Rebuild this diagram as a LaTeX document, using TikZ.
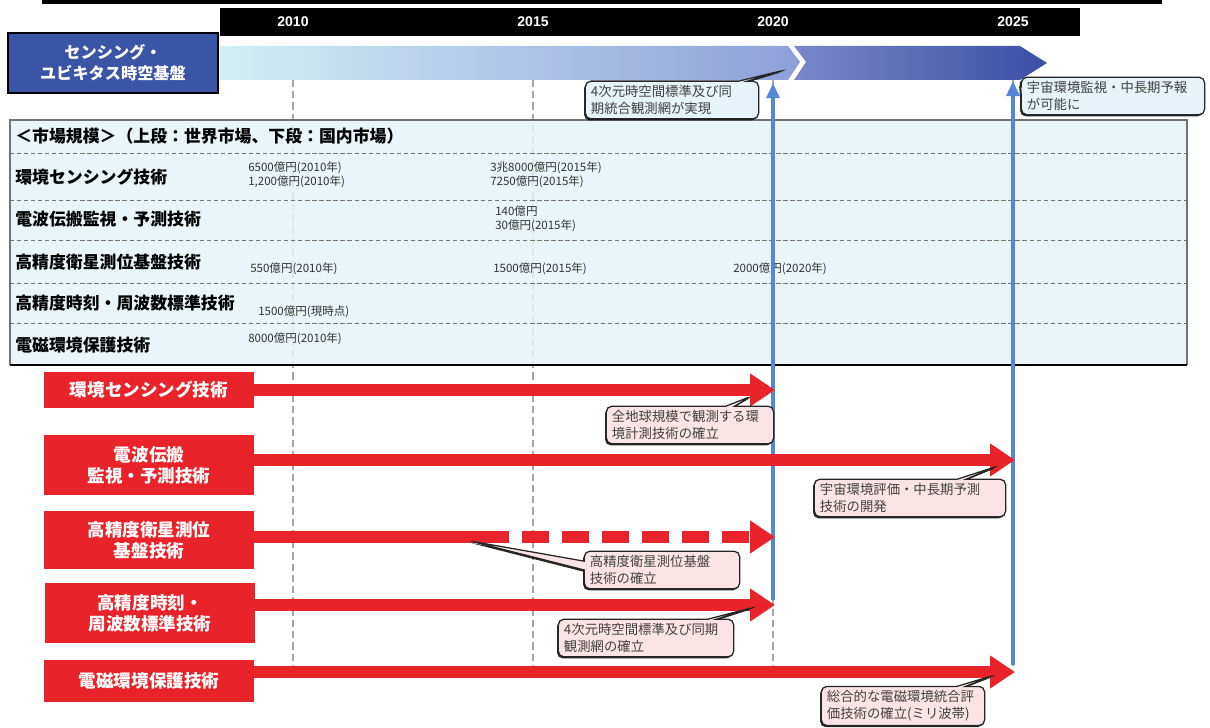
\documentclass[tikz,border=0pt]{standalone}
\usepackage{fontspec}
\setmainfont{Liberation Sans}
\newfontfamily\jp{Noto Sans CJK JP}
\usetikzlibrary{arrows.meta,shapes.callouts,shadows}

\definecolor{barred}{RGB}{232,35,42}
\definecolor{baseblue}{RGB}{58,84,166}
\definecolor{tablebg}{RGB}{230,243,248}
\definecolor{notepink}{RGB}{252,228,230}
\definecolor{notecyan}{RGB}{230,243,248}
\definecolor{axisblue}{RGB}{84,136,214}

\tikzset{
  yearbar/.style={fill=black, minimum width=21.5cm, minimum height=0.7cm, inner sep=0pt},
  yeartext/.style={text=white, font=\bfseries\fontsize{10}{12}\selectfont},
  techbase/.style={draw=black, line width=1.3pt, fill=baseblue, text=white, align=center,
    font=\jp\bfseries\fontsize{11.5}{15}\selectfont, minimum width=5.25cm, minimum height=1.5cm},
  techbox/.style={fill=barred, text=white, align=center, inner sep=0pt,
    font=\jp\bfseries\fontsize{12.5}{15}\selectfont, minimum width=5.25cm},
  rowlabel/.style={anchor=west, font=\jp\bfseries\fontsize{12}{14}\selectfont, inner sep=0pt},
  market/.style={anchor=west, align=left, font=\jp\fontsize{8.2}{10}\selectfont, text=black!80, inner sep=0pt},
  gridline/.style={draw=black!35, line width=1.4pt, dash pattern=on 5pt off 3pt},
  rowline/.style={draw=black!55, line width=0.5pt, densely dashed},
  bluearrow/.style={draw=axisblue, line width=2.8pt, -{Triangle[length=0.38cm,width=0.32cm]}},
  redarrow/.style={draw=barred, line width=8.5pt, -{Triangle[length=0.62cm,width=0.78cm]}},
  note/.style={rectangle callout, draw=black!85, line width=0.9pt, rounded corners=4pt,
    fill=notepink, text=black!75, align=left, inner xsep=4pt, inner ysep=3pt,
    font=\jp\fontsize{9.5}{12}\selectfont, callout pointer width=0.22cm,
    drop shadow={shadow xshift=-0.9pt, shadow yshift=-1.1pt, fill=black, opacity=0.85}},
}

\begin{document}
\begin{tikzpicture}[x=0.025cm,y=-0.025cm]
\useasboundingbox (0,0) rectangle (1210,728);

% years
\draw[line width=2.2pt] (42,2) -- (1162,2);
\node[yearbar] (yearbar) at (650,22) {};
\foreach \yr/\xx in {2010/293,2015/533,2020/773,2025/1013}
  \node[yeartext] (y\yr) at (\xx,22) {\yr};

% base arrow
\shade[left color={rgb,255:red,210;green,238;blue,246}, middle color={rgb,255:red,184;green,222;blue,242},
  right color={rgb,255:red,140;green,160;blue,216}]
  (220,46) -- (788,46) -- (800,62) -- (788,80) -- (220,80) -- cycle;
\shade[left color={rgb,255:red,120;green,136;blue,202}, right color={rgb,255:red,60;green,78;blue,165}]
  (794,46) -- (1020,46) -- (1047,63) -- (1020,80) -- (794,80) -- (806,62) -- cycle;
\node[techbase] (base) at (113,63) {センシング・\\ユビキタス時空基盤};

% grid
\foreach \yr in {2010,2015,2020,2025}
  \draw[gridline] (y\yr |- 0,80) -- (y\yr |- 0,665);

% market table
\fill[tablebg, fill opacity=0.85] (10,120) rectangle (1187,365);
\foreach \yy in {153,200,240,283,323}
  \draw[rowline] (10,\yy) -- (1187,\yy);
\draw[black!55, line width=0.8pt] (10,365) -- (10,120) -- (1187,120) -- (1187,365);
\draw[black, line width=1.4pt] (10,365) -- (1187,365);
\node[rowlabel] (hdr) at (15,136) {＜市場規模＞（上段：世界市場、下段：国内市場）};
\node[rowlabel] (r1) at (15,177) {環境センシング技術};
\node[rowlabel] (r2) at (15,219) {電波伝搬監視・予測技術};
\node[rowlabel] (r3) at (15,262) {高精度衛星測位基盤技術};
\node[rowlabel] (r4) at (15,303) {高精度時刻・周波数標準技術};
\node[rowlabel] (r5) at (15,345) {電磁環境保護技術};
\node[market] (m1a) at (248,175) {6500億円(2010年)\\1,200億円(2010年)};
\node[market] (m1b) at (490,175) {3兆8000億円(2015年)\\7250億円(2015年)};
\node[market] (m2b) at (495,219) {140億円\\30億円(2015年)};
\node[market] (m3a) at (250,269) {550億円(2010年)};
\node[market] (m3b) at (493,269) {1500億円(2015年)};
\node[market] (m3c) at (733,269) {2000億円(2020年)};
\node[market] (m4a) at (258,312) {1500億円(現時点)};
\node[market] (m5a) at (248,339) {8000億円(2010年)};

% milestones
\draw[bluearrow] (y2020 |- 0,600) -- (y2020 |- 0,83);
\draw[bluearrow] (y2025 |- 0,665) -- (y2025 |- 0,81);

% technologies
\node[techbox, minimum height=0.875cm] (t1) at (149,390) {環境センシング技術};
\node[techbox, minimum height=1.475cm] (t2) at (149,465) {電波伝搬\\監視・予測技術};
\node[techbox, minimum height=1.45cm] (t3) at (149,540) {高精度衛星測位\\基盤技術};
\node[techbox, minimum height=1.5cm] (t4) at (150,613) {高精度時刻・\\周波数標準技術};
\node[techbox, minimum height=1.05cm] (t5) at (149,681) {電磁環境保護技術};

\coordinate (a1) at (775,390);
\coordinate (a2) at (1015,460);
\coordinate (d3) at (482,537);
\coordinate (a3) at (775,537);
\coordinate (a4) at (775,605);
\coordinate (a5) at (1015,672);
\draw[redarrow] (t1.east |- a1) -- (a1);
\draw[redarrow] (t2.east |- a2) -- (a2);
\draw[barred, line width=8.5pt] (t3.east |- d3) -- (d3);
\draw[redarrow, dash pattern=on 0.68cm off 0.32cm] (d3) -- (a3);
\draw[redarrow] (t4.east |- a4) -- (a4);
\draw[redarrow] (t5.east |- a5) -- (a5);

% notes
\coordinate (p1) at (752,396);
\coordinate (p2) at (998,466);
\coordinate (p3) at (470,541);
\coordinate (p4) at (755,607);
\coordinate (p5) at (995,675);
\coordinate (p6) at (785,70);
\coordinate (p7) at (1020,80);
\node[note, fill=notecyan, text width=4.05cm, callout absolute pointer={(p6)}] (c6) at (672,100)
  {4次元時空間標準及び同\\期統合観測網が実現};
\node[note, fill=notecyan, text width=4.3cm, callout absolute pointer={(p7)}] (c7) at (1113,96)
  {宇宙環境監視・中長期予報\\が可能に};
\node[note, text width=3.9cm, callout absolute pointer={(p1)}] (c1) at (690,425)
  {全地球規模で観測する環\\境計測技術の確立};
\node[note, text width=4.5cm, callout absolute pointer={(p2)}] (c2) at (910,498)
  {宇宙環境評価・中長期予測\\技術の開発};
\node[note, text width=3.6cm, callout absolute pointer={(p3)}] (c3) at (662,570)
  {高精度衛星測位基盤\\技術の確立};
\node[note, text width=4.1cm, callout absolute pointer={(p4)}] (c4) at (646,638)
  {4次元時空間標準及び同期\\観測網の確立};
\node[note, text width=3.8cm, callout absolute pointer={(p5)}] (c5) at (903,706)
  {総合的な電磁環境統合評\\価技術の確立(ミリ波帯)};
\end{tikzpicture}
\end{document}
